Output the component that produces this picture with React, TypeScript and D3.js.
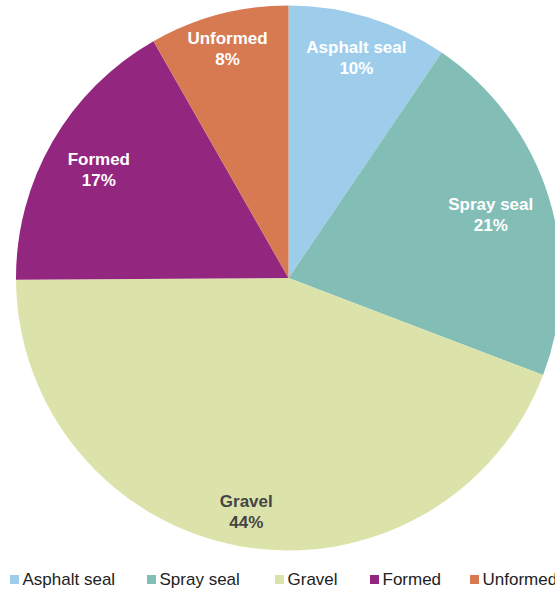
import React from "react";
import * as d3 from "d3";

const categories = ["Asphalt seal", "Spray seal", "Gravel", "Formed", "Unformed"];
const values = [9.5, 21.3, 44.1, 16.85, 8.25];
const colors = ["#9DCDEB", "#83BEB6", "#DCE3AA", "#93277F", "#D77A51"];
const labelColors = ["#ffffff", "#ffffff", "#454545", "#ffffff", "#ffffff"];

const W = 555;
const H = 591;
const cx = 288.5;
const cy = 278;
const R = 272.5;
const FONT = "Helvetica, Arial, 'Liberation Sans', sans-serif";
// radial distance of each in-slice label (layout)
const LABEL_R = [231, 212, 237, 219, 238];
const LEGEND_X = [10, 147, 275, 370, 470];

export default function App() {
  const total = d3.sum(values);
  const pie = d3.pie<number>().sort(null).value((d) => d);
  const arcs = pie(values);
  const arc = d3.arc<d3.PieArcDatum<number>>().innerRadius(0).outerRadius(R);

  const legendX = d3.scaleOrdinal<string, number>().domain(categories).range(LEGEND_X);

  return (
    <svg width={W} height={H} style={{ position: "absolute", left: 0, top: 0, background: "#fff" }}>
      <g transform={`translate(${cx},${cy})`}>
        {arcs.map((a, i) => (
          <path key={i} d={arc(a) || ""} fill={colors[i]} />
        ))}
        {arcs.map((a, i) => {
          const la = d3.arc<d3.PieArcDatum<number>>().innerRadius(LABEL_R[i]).outerRadius(LABEL_R[i]);
          const [x, y] = la.centroid(a);
          return (
            <text
              key={"l" + i}
              x={x}
              y={y}
              textAnchor="middle"
              fontFamily={FONT}
              fontWeight="bold"
              fontSize={17}
              fill={labelColors[i]}
            >
              <tspan x={x} dy={-4}>{categories[i]}</tspan>
              <tspan x={x} dy={21}>{Math.round((values[i] / total) * 100)}%</tspan>
            </text>
          );
        })}
      </g>
      <g>
        {categories.map((c, i) => (
          <g key={c} transform={`translate(${legendX(c)},575)`}>
            <rect x={0} y={0} width={9} height={9} fill={colors[i]} />
            <text x={12.5} y={9.5} fontFamily={FONT} fontSize={17} fill="#222">
              {c}
            </text>
          </g>
        ))}
      </g>
    </svg>
  );
}
